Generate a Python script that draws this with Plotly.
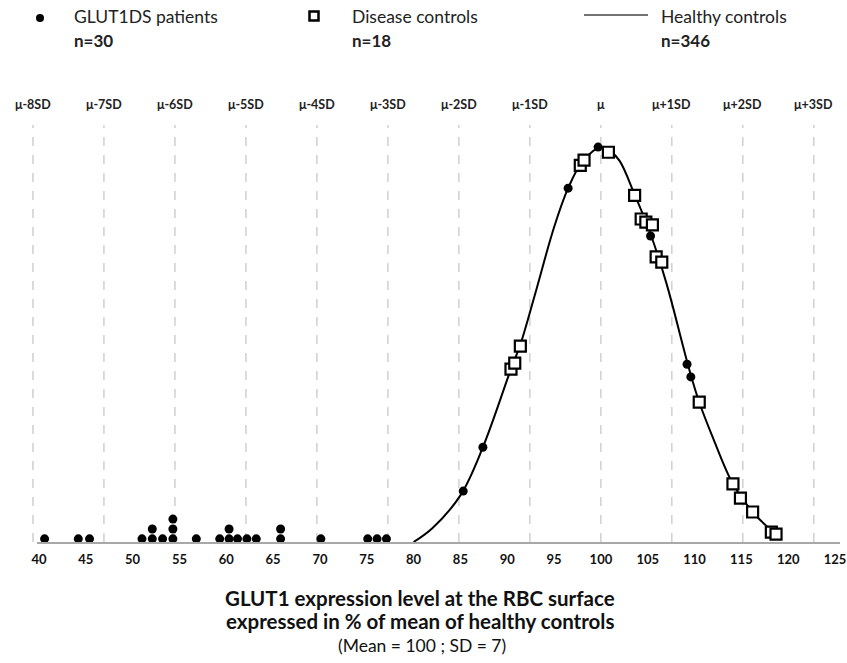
import plotly.graph_objects as go

# ---------------- data ----------------
# Healthy controls distribution curve (relative frequency, peak = 1)
curve_x = [80, 82, 85, 87.4, 90.4, 91.4, 93, 95, 96.5, 98, 100, 101, 102, 103.6, 105.3, 107, 109.4, 110.5, 112, 114.1, 116.2, 118.7, 119.2]
curve_y = [0, 0.035, 0.118, 0.24, 0.438, 0.50, 0.63, 0.797, 0.896, 0.962, 1.0, 0.99, 0.965, 0.88, 0.78, 0.655, 0.44, 0.354, 0.262, 0.147, 0.076, 0.02, 0.012]

# GLUT1DS patients (black dots)
glut_x = [40.6, 44.2, 45.4, 51.0, 52.1, 52.1, 53.2, 54.3, 54.3, 54.3, 56.8, 59.3, 60.3, 60.3,
          61.2, 62.2, 63.2, 65.8, 65.8, 70.1, 75.1, 76.1, 77.1,
          85.3, 87.4, 96.5, 99.7, 105.3, 109.2, 109.6]
glut_y = [0.008, 0.008, 0.008, 0.008, 0.008, 0.033, 0.008, 0.008, 0.033, 0.058, 0.008, 0.008, 0.008, 0.033,
          0.008, 0.008, 0.008, 0.008, 0.033, 0.008, 0.008, 0.008, 0.008,
          0.129, 0.24, 0.896, 1.0, 0.775, 0.45, 0.418]

# Disease controls (open squares)
dis_x = [90.4, 90.8, 91.4, 97.8, 98.2, 100.8, 103.6, 104.3, 104.8, 105.5, 105.9, 106.5,
         110.5, 114.1, 114.9, 116.2, 118.2, 118.7]
dis_y = [0.438, 0.453, 0.496, 0.954, 0.967, 0.987, 0.878, 0.818, 0.81, 0.803, 0.722, 0.709,
         0.354, 0.147, 0.111, 0.076, 0.025, 0.02]

tick_vals = [40, 45, 50, 55, 60, 65, 70, 75, 80, 85, 90, 95, 100, 105, 110, 115, 120, 125]
sd_labels = ["μ-8SD", "μ-7SD", "μ-6SD", "μ-5SD", "μ-4SD", "μ-3SD", "μ-2SD", "μ-1SD",
             "μ", "μ+1SD", "μ+2SD", "μ+3SD"]
sd_k = [-8, -7, -6, -5, -4, -3, -2, -1, 0, 1, 2, 3]
sd_mean = 100
sd_step = 7.58  # spacing of the SD guide lines as drawn in the picture

legend_names = ["GLUT1DS patients", "Disease controls", "Healthy controls"]
legend_n = ["n=30", "n=18", "n=346"]

# ---------------- layout geometry ----------------
W, H = 847, 663
L, R, T, B = 37, 7, 125, 121
X_RANGE = [39.79, 125.53]
Y_RANGE = [0, 1.056]
FONT = "Lato"

def px(xp):
    return (xp - L) / (W - L - R)

def py(yp):
    return (H - B - yp) / (H - T - B)

def xdata_to_paper(xv):
    return (xv - X_RANGE[0]) / (X_RANGE[1] - X_RANGE[0])

fig = go.Figure()

# SD guide lines
sd_x = [sd_mean + k * sd_step for k in sd_k]
for xv in sd_x:
    xp = xdata_to_paper(xv)
    fig.add_shape(type="line", xref="paper", yref="paper", x0=xp, x1=xp, y0=0, y1=1,
                  line=dict(color="#b8b8b8", width=1, dash="dash"), layer="below")

fig.add_trace(go.Scatter(x=curve_x, y=curve_y, mode="lines", line=dict(color="black", width=2, shape="spline", smoothing=1.0),
                         showlegend=False, hoverinfo="skip", cliponaxis=False))
fig.add_trace(go.Scatter(x=dis_x, y=dis_y, mode="markers",
                         marker=dict(symbol="square", size=11, color="white", line=dict(color="black", width=2.2)),
                         showlegend=False, cliponaxis=False))
fig.add_trace(go.Scatter(x=glut_x, y=glut_y, mode="markers",
                         marker=dict(symbol="circle", size=9, color="black"),
                         showlegend=False, cliponaxis=False))

ann = []
for xv, lab in zip(sd_x, sd_labels):
    ann.append(dict(x=xdata_to_paper(xv), xref="paper", y=py(104), yref="paper", text=f"<b>{lab}</b>", showarrow=False,
                    font=dict(family=FONT, size=12.5, color="#222"), xanchor="center", yanchor="middle"))

# legend (manual)
leg_text_x = [72, 350, 659]
for xt, nm, nn in zip(leg_text_x, legend_names, legend_n):
    ann.append(dict(x=px(xt), xref="paper", y=py(16), yref="paper", text=nm, showarrow=False,
                    font=dict(family=FONT, size=17.5, color="#222"), xanchor="left", yanchor="middle"))
    ann.append(dict(x=px(xt), xref="paper", y=py(41), yref="paper", text=f"<b>{nn}</b>", showarrow=False,
                    font=dict(family=FONT, size=17, color="#222"), xanchor="left", yanchor="middle"))

fig.add_shape(type="circle", xref="paper", yref="paper", xsizemode="pixel", ysizemode="pixel",
              xanchor=px(40), yanchor=py(18), x0=-4, x1=4, y0=-4, y1=4,
              fillcolor="black", line=dict(color="black", width=0))
fig.add_shape(type="rect", xref="paper", yref="paper", xsizemode="pixel", ysizemode="pixel",
              xanchor=px(314), yanchor=py(16), x0=-4.5, x1=4.5, y0=-4.5, y1=4.5,
              fillcolor="white", line=dict(color="black", width=2.5))
fig.add_shape(type="line", xref="paper", yref="paper", x0=px(584), x1=px(648), y0=py(15), y1=py(15),
              line=dict(color="#444", width=1.3))

# axis title
ann.append(dict(x=px(420), xref="paper", y=py(598), yref="paper",
                text="<b>GLUT1 expression level at the RBC surface</b>", showarrow=False,
                font=dict(family=FONT, size=20.5, color="#111"), xanchor="center", yanchor="middle"))
ann.append(dict(x=px(420), xref="paper", y=py(621), yref="paper",
                text="<b>expressed in % of mean of healthy controls</b>", showarrow=False,
                font=dict(family=FONT, size=20.5, color="#111"), xanchor="center", yanchor="middle"))
ann.append(dict(x=px(422), xref="paper", y=py(645), yref="paper",
                text="(Mean = 100 ; SD = 7)", showarrow=False,
                font=dict(family=FONT, size=17.5, color="#111"), xanchor="center", yanchor="middle"))

fig.update_layout(
    width=W, height=H, margin=dict(l=L, r=R, t=T, b=B, autoexpand=False),
    paper_bgcolor="white", plot_bgcolor="white", annotations=ann, showlegend=False,
    xaxis=dict(range=X_RANGE, tickvals=tick_vals, ticktext=[f"<b>{v}</b>" for v in tick_vals],
               showgrid=False, zeroline=False, showline=True, linecolor="#a8a8a8", linewidth=1.5,
               ticks="", ticklabelstandoff=5, tickfont=dict(family=FONT, size=13, color="#111")),
    yaxis=dict(range=Y_RANGE, visible=False, showgrid=False, zeroline=False),
)

fig.write_html("out.html", config={"displayModeBar": False},
               post_script="document.body.style.margin='0';document.body.style.padding='0';")
